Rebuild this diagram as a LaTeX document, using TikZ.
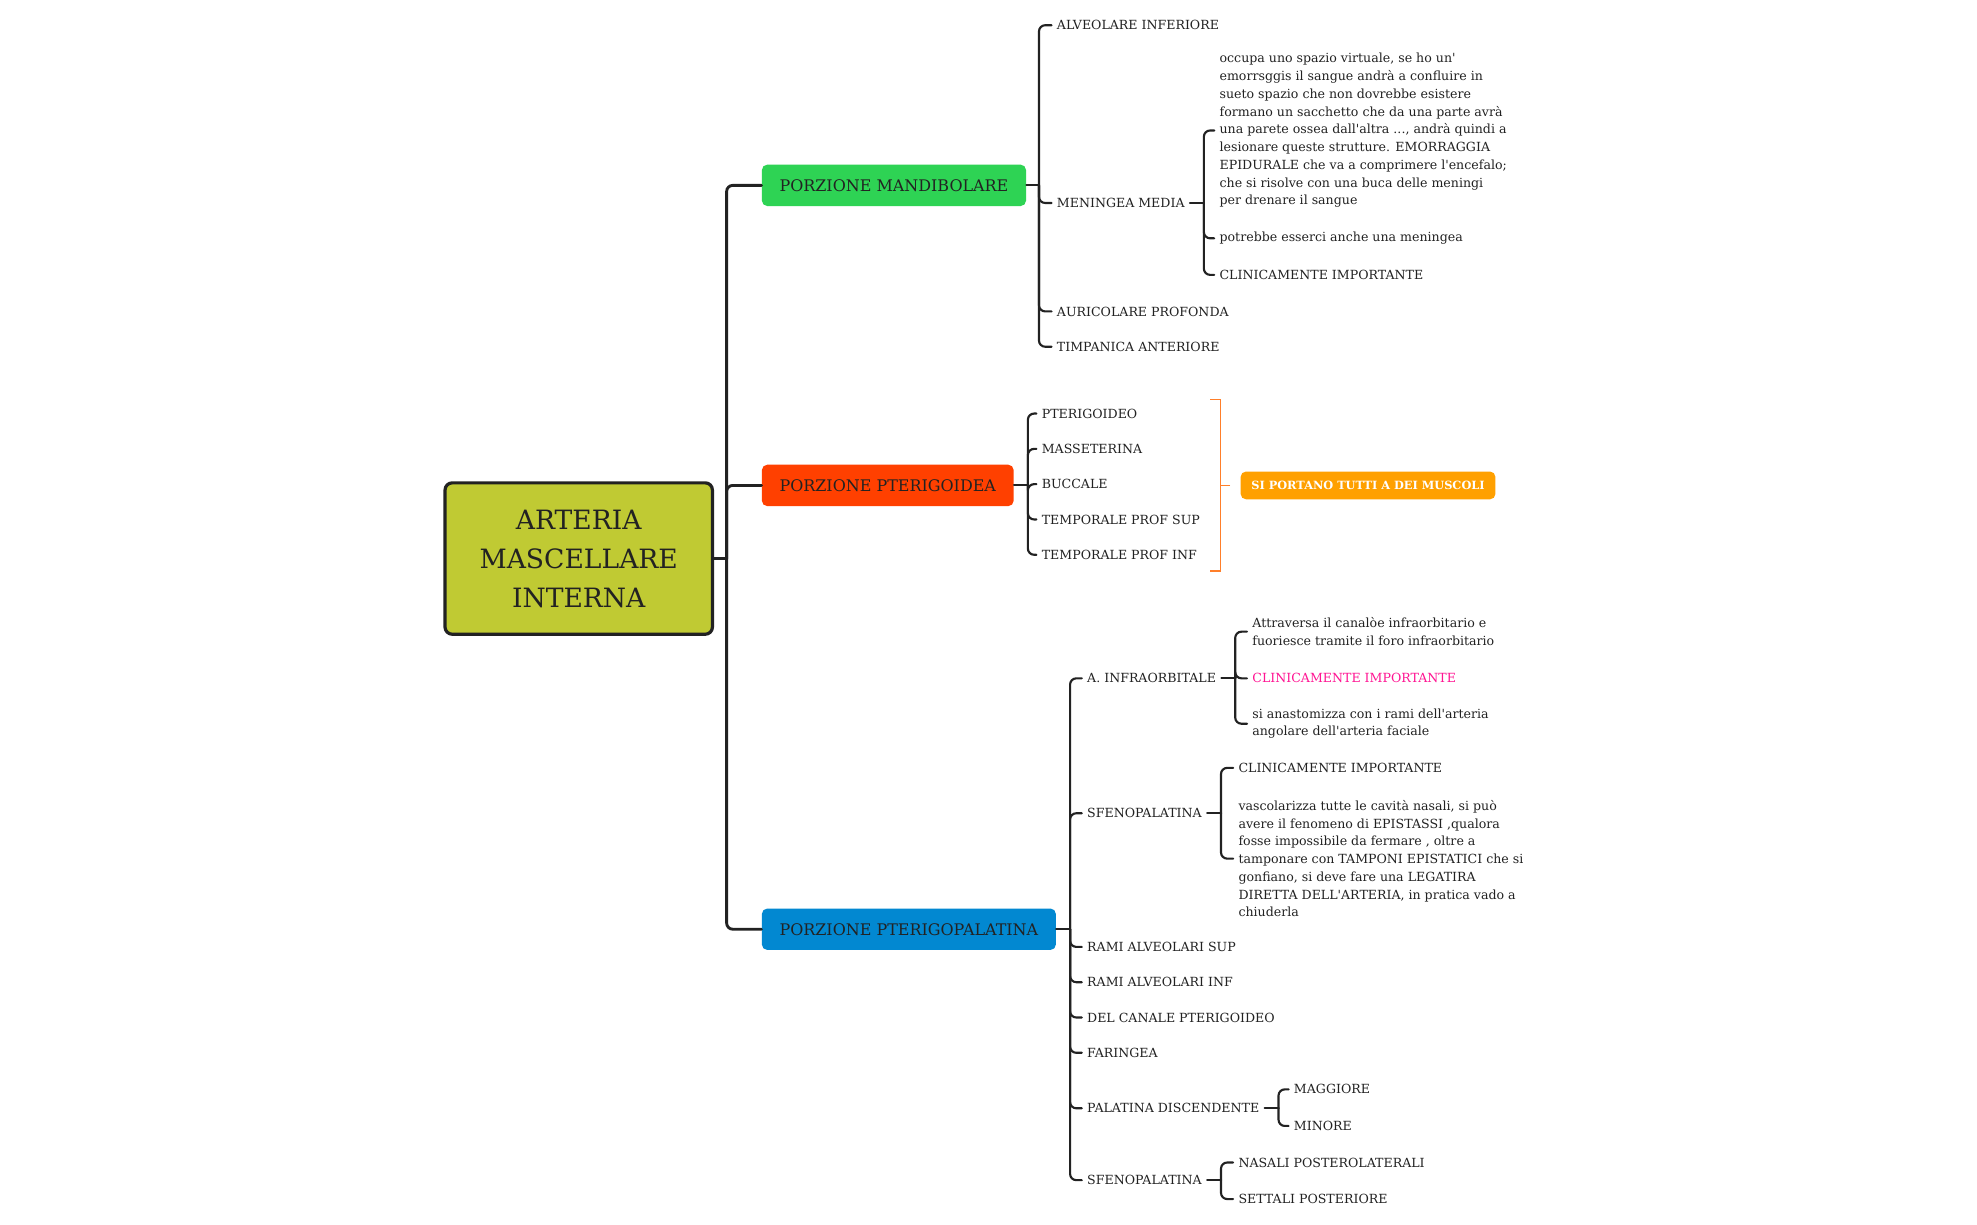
\documentclass[tikz,border=0pt]{standalone}
\usepackage{fontspec}
\setmainfont{DejaVu Serif}[Ligatures=TeXOff]
\usetikzlibrary{positioning}
\definecolor{ink}{HTML}{222222}
\definecolor{c0}{HTML}{C0CA33}
\definecolor{c1}{HTML}{2ED354}
\definecolor{c2}{HTML}{FF4000}
\definecolor{c3}{HTML}{0288D1}
\definecolor{c4}{HTML}{FFA000}
\definecolor{c5}{HTML}{FF7F2A}
\definecolor{c6}{HTML}{FF1493}

\begin{document}
\begin{tikzpicture}[
    x=0.025cm, y=-0.025cm,
    every node/.style={font=\fontsize{7.1}{10}\selectfont, text=ink},
    root/.style={
        draw=ink, fill=c0, line width=1.8pt, rounded corners=4pt,
        minimum width=5.3cm, minimum height=3cm, align=center,
        font=\fontsize{15}{22}\selectfont,
    },
    part/.style={
        anchor=west, rounded corners=3pt, minimum height=0.82cm,
        inner xsep=0.35cm, font=\fontsize{9}{11}\selectfont,
    },
    leaf/.style={anchor=west, inner xsep=0.1cm, inner ysep=1pt, align=left},
    tag/.style={
        fill=c4, text=white, rounded corners=3pt, minimum width=5.05cm,
        minimum height=0.55cm, font=\bfseries\fontsize{6.4}{8}\selectfont,
    },
    trunk/.style={draw=ink, line width=1.6pt, rounded corners=3.5pt, line cap=round},
    link/.style={draw=ink, line width=1.2pt, rounded corners=3.5pt, line cap=round},
    brk/.style={draw=c5, line width=0.8pt},
]
\fill[white] (0,0) rectangle (1568,971);
\useasboundingbox (0,0) rectangle (1568,971);

% ============================================================ the artery
\node[root] (art) at (459,443) {ARTERIA\\MASCELLARE\\INTERNA};

\node[part, fill=c1] (mand) at (604,147) {PORZIONE MANDIBOLARE};
\node[part, fill=c2] (pter) at (604,385) {PORZIONE PTERIGOIDEA};
\node[part, fill=c3] (pgp) at (604,737) {PORZIONE PTERIGOPALATINA};
\draw[trunk] (art.east) -- ++(10,0);
\foreach \p in {mand, pter, pgp}{
    \draw[trunk] (art.east) ++(10,0) |- (\p.west);
}

% ============================================================ mandibolare
\node[leaf] (alv) at (834,20) {ALVEOLARE INFERIORE};
\node[leaf] (men) at (834,161) {MENINGEA MEDIA};
\node[leaf] (aur) at (834,247) {AURICOLARE PROFONDA};
\node[leaf] (tim) at (834,275) {TIMPANICA ANTERIORE};
\draw[link] (mand.east) -- ++(10,0);
\foreach \c in {alv, men, aur, tim}{
    \draw[link] (mand.east) ++(10,0) |- (\c.west);
}

\node[leaf] (menA) at (963,103.5)
    {occupa uno spazio virtuale, se ho un'\\
     emorrsggis il sangue andrà a confluire in\\
     sueto spazio che non dovrebbe esistere\\
     formano un sacchetto che da una parte avrà\\
     una parete ossea dall'altra ..., andrà quindi a\\
     lesionare queste strutture. EMORRAGGIA\\
     EPIDURALE che va a comprimere l'encefalo;\\
     che si risolve con una buca delle meningi\\
     per drenare il sangue};
\node[leaf] (menB) at (963,189) {potrebbe esserci anche una meningea};
\node[leaf] (menC) at (963,218) {CLINICAMENTE IMPORTANTE};
\draw[link] (men.east) -- ++(11,0);
\foreach \c in {menA, menB, menC}{
    \draw[link] (men.east) ++(11,0) |- (\c.west);
}

% ============================================================ pterigoidea
\draw[link] (pter.east) -- ++(11,0);
\foreach \n/\y/\t in {pt1/328/PTERIGOIDEO, pt2/356/MASSETERINA, pt3/384/BUCCALE,
    pt4/412/TEMPORALE PROF SUP, pt5/440/TEMPORALE PROF INF}{
    \node[leaf] (\n) at (822,\y) {\t};
    \draw[link] (pter.east) ++(11,0) |- (\n.west);
}

% the summary bracket
\coordinate (sumtop) at (960,317);
\coordinate (sumbot) at (960,453);
\node[tag] (musc) at (1085,385) {SI PORTANO TUTTI A DEI MUSCOLI};
\draw[brk] (sumtop) -- ++(8,0) |- (sumbot);
\draw[brk] ([xshift=-0.2cm]musc.west) -- ++(-8,0);

% ============================================================ pterigopalatina
\node[leaf] (inf) at (858,538) {A. INFRAORBITALE};
\node[leaf] (sf1) at (858,645) {SFENOPALATINA};
\node[leaf] (ras) at (858,751) {RAMI ALVEOLARI SUP};
\node[leaf] (rai) at (858,779) {RAMI ALVEOLARI INF};
\node[leaf] (can) at (858,807) {DEL CANALE PTERIGOIDEO};
\node[leaf] (far) at (858,835) {FARINGEA};
\node[leaf] (pal) at (858,879) {PALATINA DISCENDENTE};
\node[leaf] (sf2) at (858,936) {SFENOPALATINA};
\draw[link] (pgp.east) -- ++(11,0);
\foreach \c in {inf, sf1, ras, rai, can, far, pal, sf2}{
    \draw[link] (pgp.east) ++(11,0) |- (\c.west);
}

% infraorbitale
\node[leaf] (infA) at (989,501)
    {Attraversa il canalòe infraorbitario e\\
     fuoriesce tramite il foro infraorbitario};
\node[leaf, text=c6] (infB) at (989,538) {CLINICAMENTE IMPORTANTE};
\node[leaf] (infC) at (989,574)
    {si anastomizza con i rami dell'arteria\\
     angolare dell'arteria faciale};
\draw[link] (inf.east) -- ++(11,0);
\foreach \c in {infA, infB, infC}{
    \draw[link] (inf.east) ++(11,0) |- (\c.west);
}

% sfenopalatina, the first
\node[leaf] (sfA) at (978,609) {CLINICAMENTE IMPORTANTE};
\node[leaf] (sfB) at (978,681)
    {vascolarizza tutte le cavità nasali, si può\\
     avere il fenomeno di EPISTASSI ,qualora\\
     fosse impossibile da fermare , oltre a\\
     tamponare con TAMPONI EPISTATICI che si\\
     gonfiano, si deve fare una LEGATIRA\\
     DIRETTA DELL'ARTERIA, in pratica vado a\\
     chiuderla};
\draw[link] (sf1.east) -- ++(11,0);
\foreach \c in {sfA, sfB}{
    \draw[link] (sf1.east) ++(11,0) |- (\c.west);
}

% palatina discendente
\node[leaf] (mag) at (1022,864) {MAGGIORE};
\node[leaf] (min) at (1022,893) {MINORE};
\draw[link] (pal.east) -- ++(11,0);
\foreach \c in {mag, min}{
    \draw[link] (pal.east) ++(11,0) |- (\c.west);
}

% sfenopalatina, the second
\node[leaf] (nas) at (978,922) {NASALI POSTEROLATERALI};
\node[leaf] (set) at (978,951) {SETTALI POSTERIORE};
\draw[link] (sf2.east) -- ++(11,0);
\foreach \c in {nas, set}{
    \draw[link] (sf2.east) ++(11,0) |- (\c.west);
}

\end{tikzpicture}
\end{document}
